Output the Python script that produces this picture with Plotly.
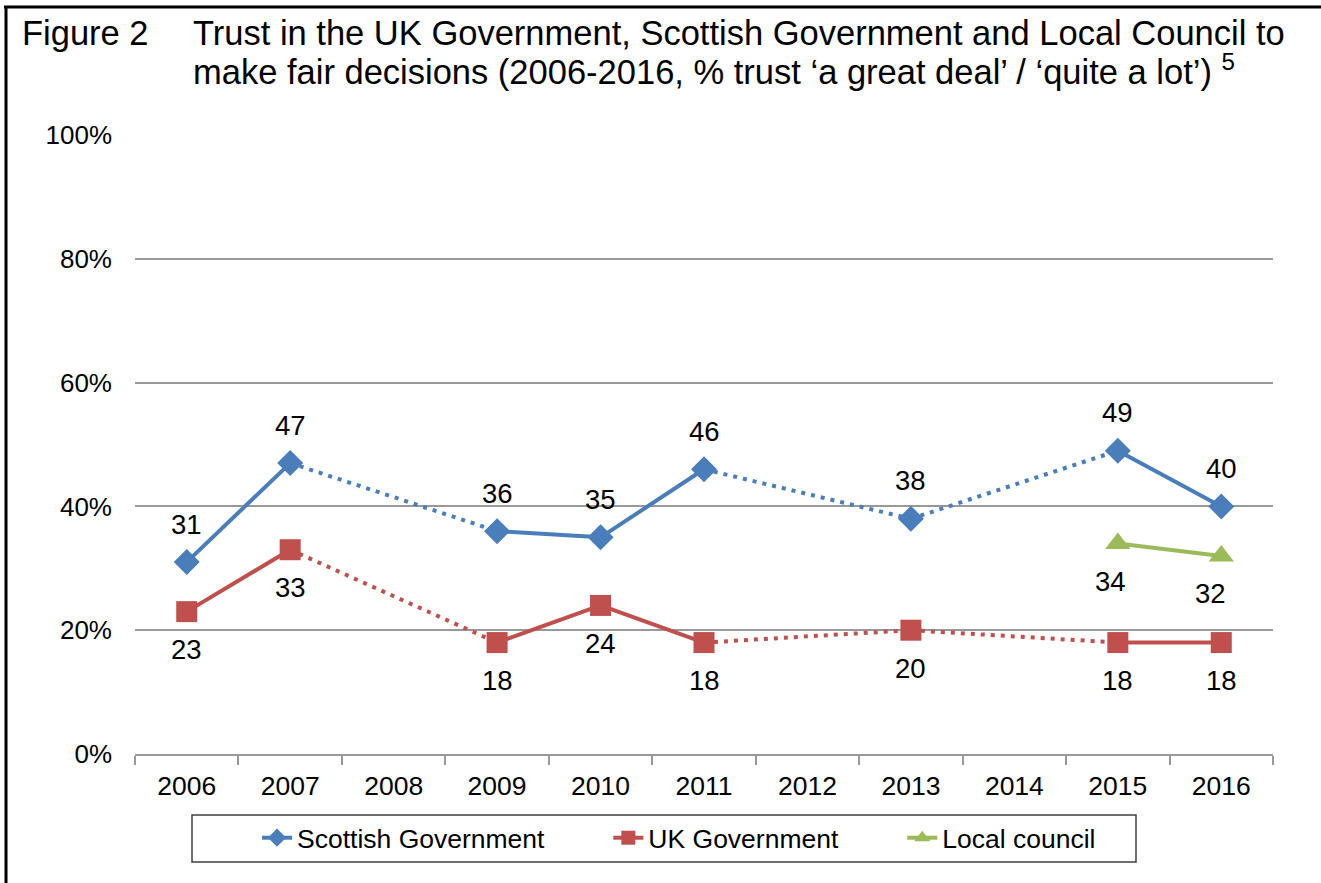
import plotly.graph_objects as go

# ---------------- data ----------------
years = ['2006', '2007', '2008', '2009', '2010', '2011', '2012', '2013', '2014', '2015', '2016']
scottish_gov = [31, 47, None, 36, 35, 46, None, 38, None, 49, 40]
uk_gov = [23, 33, None, 18, 24, 18, None, 20, None, 18, 18]
local_council = [None, None, None, None, None, None, None, None, None, 34, 32]
y_ticks = [0, 20, 40, 60, 80, 100]
y_tick_labels = ['0%', '20%', '40%', '60%', '80%', '100%']

title_lead = 'Figure 2'
title_line1 = 'Trust in the UK Government, Scottish Government and Local Council to'
title_line2 = 'make fair decisions (2006-2016, % trust \u2018a great deal\u2019 / \u2018quite a lot\u2019) <sup>5</sup>'

# ---------------- style ----------------
FONT = 'Liberation Sans, Arial, sans-serif'
W, H = 1321, 883
L, R, T, B = 135, 48, 135, 129
PW, PH = W - L - R, H - T - B
PAD = '&nbsp;' * 8

def px_x(px):
    return (px - L) / PW

def px_y(py):
    return (H - B - py) / PH

series = [
    dict(name='Scottish Government', vals=scottish_gov, color='#4A7EBB', symbol='diamond', size=20, above=True),
    dict(name='UK Government', vals=uk_gov, color='#C0504D', symbol='square', size=21, above=False),
    dict(name='Local council', vals=local_council, color='#9BBB59', symbol='triangle-up', size=22, above=False),
]
label_dx = {'Local council': [0] * 9 + [-7, -11]}

fig = go.Figure()
annotations = []

for s in series:
    vals = s['vals']
    idx = [i for i, v in enumerate(vals) if v is not None]
    sx, sy, dx, dy = [], [], [], []
    for a, b in zip(idx[:-1], idx[1:]):
        if b == a + 1:
            sx += [years[a], years[b], None]
            sy += [vals[a], vals[b], None]
        else:
            dx += [years[a], years[b], None]
            dy += [vals[a], vals[b], None]
    if dx:
        fig.add_trace(go.Scatter(x=dx, y=dy, mode='lines', showlegend=False, hoverinfo='skip',
                                 line=dict(color=s['color'], width=4, dash='4px,6px')))
    if sx:
        fig.add_trace(go.Scatter(x=sx, y=sy, mode='lines', showlegend=False, hoverinfo='skip',
                                 line=dict(color=s['color'], width=4)))
    fig.add_trace(go.Scatter(x=[years[i] for i in idx], y=[vals[i] for i in idx], mode='markers',
                             showlegend=False,
                             marker=dict(symbol=s['symbol'], size=s['size'], color=s['color'],
                                         line=dict(width=0))))
    # legend entry
    fig.add_trace(go.Scatter(x=[None], y=[None], mode='lines+markers', name=s['name'] + PAD,
                             line=dict(color=s['color'], width=4),
                             marker=dict(symbol=s['symbol'], size=14, color=s['color'])))
    dxs = label_dx.get(s['name'], [0] * len(vals))
    for i in idx:
        # category axis: position by category index
        annotations.append(dict(x=i, y=vals[i], xref='x', yref='y', text=str(vals[i]),
                                showarrow=False, yshift=38 if s['above'] else -38, xshift=dxs[i],
                                font=dict(family=FONT, size=27.5, color='#000000')))

# title
annotations += [
    dict(x=px_x(20), y=px_y(33), xref='paper', yref='paper', xanchor='left', yanchor='middle',
         text=title_lead, showarrow=False, font=dict(family=FONT, size=34.5, color='#000000')),
    dict(x=px_x(191), y=px_y(33), xref='paper', yref='paper', xanchor='left', yanchor='middle',
         text=title_line1, showarrow=False, font=dict(family=FONT, size=34.5, color='#000000')),
    dict(x=px_x(191), y=px_y(69), xref='paper', yref='paper', xanchor='left', yanchor='middle',
         text=title_line2, showarrow=False, font=dict(family=FONT, size=34.5, color='#000000')),
]

shapes = [
    # page frame (top and left)
    dict(type='line', xref='paper', yref='paper', x0=px_x(4), x1=px_x(W), y0=px_y(7), y1=px_y(7),
         line=dict(color='#000000', width=3)),
    dict(type='line', xref='paper', yref='paper', x0=px_x(6), x1=px_x(6), y0=px_y(6), y1=px_y(H),
         line=dict(color='#000000', width=3)),
    # legend box
    dict(type='rect', xref='paper', yref='paper', x0=px_x(192), x1=px_x(1136), y0=px_y(815), y1=px_y(862),
         line=dict(color='#404040', width=1.5)),
]

fig.update_layout(
    width=W, height=H,
    margin=dict(l=L, r=R, t=T, b=B),
    paper_bgcolor='white', plot_bgcolor='white',
    font=dict(family=FONT, size=25, color='#000000'),
    showlegend=True,
    legend=dict(orientation='h', x=px_x(257), y=px_y(814), xanchor='left', yanchor='top',
                borderwidth=0, bgcolor='rgba(0,0,0,0)', font=dict(family=FONT, size=26.5),
                itemclick=False, itemdoubleclick=False),
    annotations=annotations,
    shapes=shapes,
    xaxis=dict(type='category', categoryorder='array', categoryarray=years, range=[-0.5, 10.5],
               showgrid=False, showline=True, linecolor='#999999', linewidth=1.5,
               ticks='outside', ticklen=9, tickcolor='#999999', tickwidth=1.5, tickson='boundaries',
               tickfont=dict(family=FONT, size=26.5), ticklabelstandoff=7, zeroline=False),
    yaxis=dict(range=[0, 100], tickvals=y_ticks, ticktext=y_tick_labels, showgrid=True,
               gridcolor='#999999', gridwidth=1.5, showline=False, zeroline=False, ticks='',
               tickfont=dict(family=FONT, size=26), ticklabelstandoff=22),
)

fig.write_html('out.html')
